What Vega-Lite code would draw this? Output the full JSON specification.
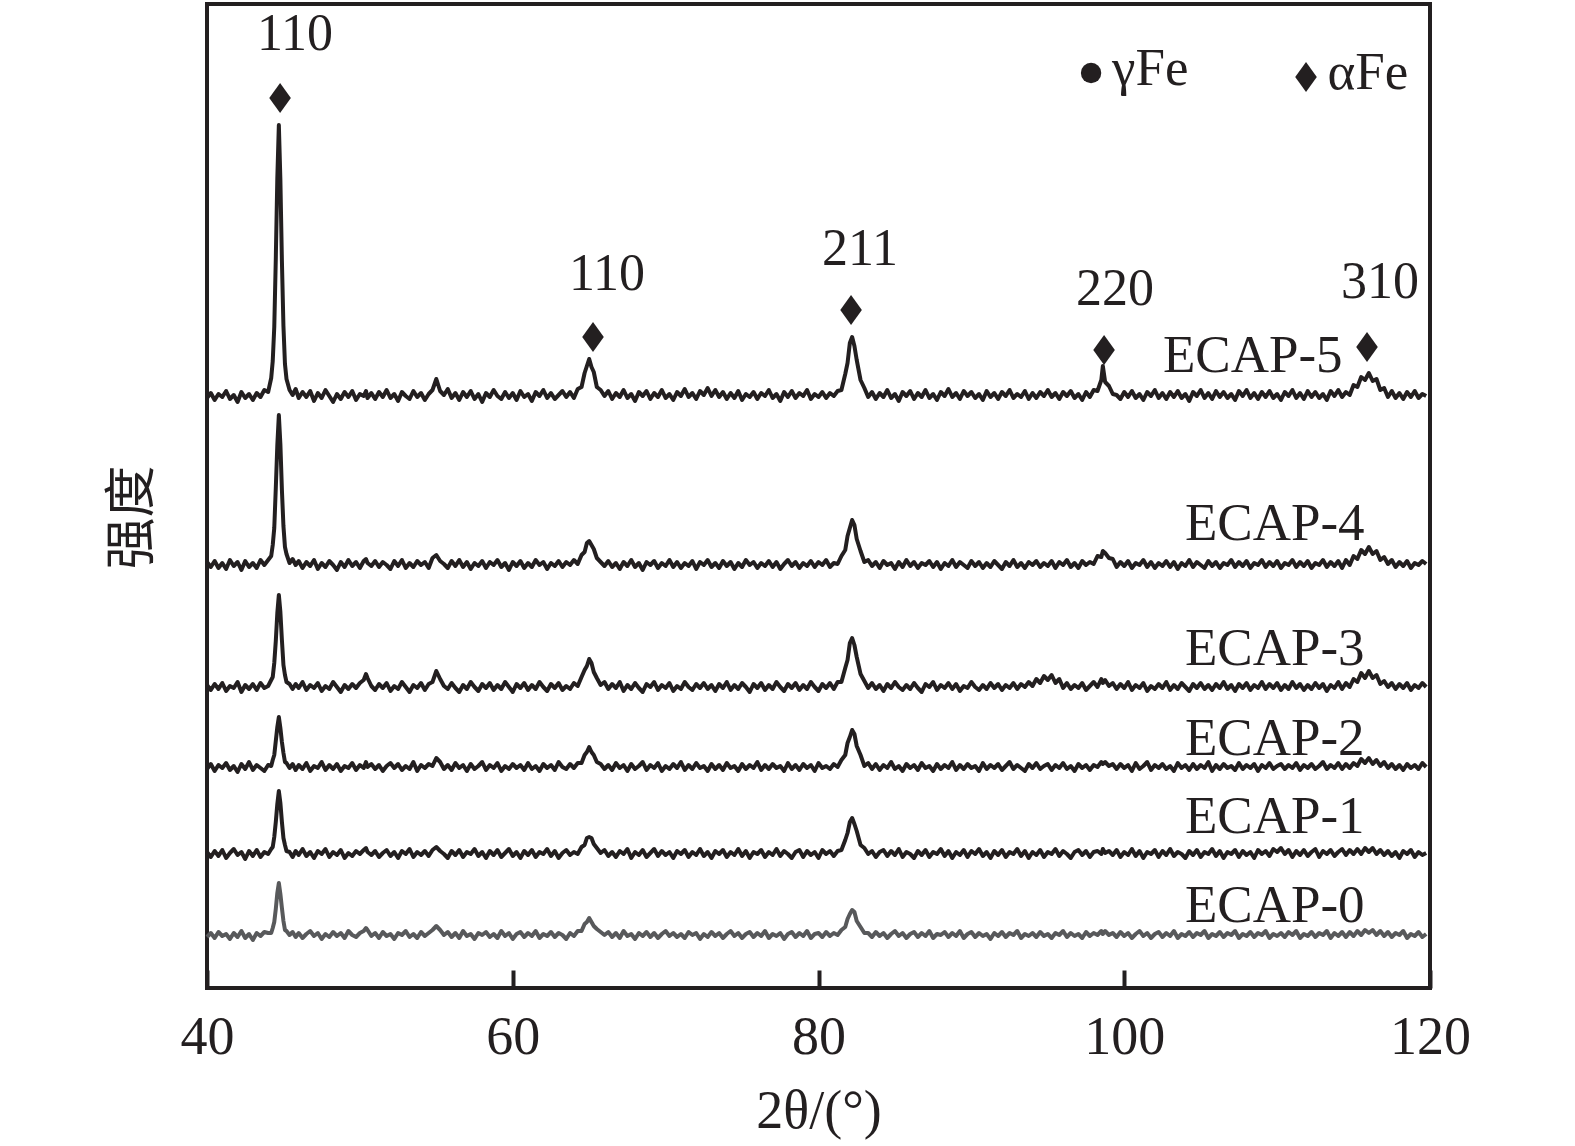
{
"$schema": "https://vega.github.io/schema/vega-lite/v6.json",
"width": 1223, "height": 984,
"autosize": {"type": "none"},
"padding": {"left": 207, "top": 4, "right": 145, "bottom": 158},
"background": "white",
"config": {"view": {"stroke": "#231f20", "strokeWidth": 4}, "font": "Liberation Serif"},
"datasets": {
"xrd": [
{"x":40,"a":590,"b":426,"c":303,"d":219,"e":136,"f":51},
{"x":40.25,"a":595,"b":421,"c":298,"d":224,"e":131,"f":55},
{"x":40.5,"a":588,"b":427,"c":304,"d":217,"e":137,"f":50},
{"x":40.75,"a":594,"b":420,"c":299,"d":223,"e":132,"f":56},
{"x":41,"a":591,"b":425,"c":305,"d":220,"e":138,"f":52},
{"x":41.25,"a":597,"b":419,"c":297,"d":225,"e":130,"f":54},
{"x":41.5,"a":589,"b":428,"c":302,"d":218,"e":135,"f":49},
{"x":41.75,"a":593,"b":422,"c":300,"d":222,"e":139,"f":55},
{"x":42,"a":586,"b":426,"c":306,"d":216,"e":133,"f":51},
{"x":42.25,"a":596,"b":418,"c":296,"d":224,"e":136,"f":57},
{"x":42.5,"a":590,"b":427,"c":303,"d":219,"e":129,"f":50},
{"x":42.75,"a":594,"b":421,"c":299,"d":226,"e":137,"f":54},
{"x":43,"a":588,"b":425,"c":304,"d":218,"e":132,"f":48},
{"x":43.25,"a":595,"b":420,"c":298,"d":223,"e":138,"f":55},
{"x":43.5,"a":591,"b":428,"c":305,"d":220,"e":131,"f":52},
{"x":43.75,"a":598,"b":423,"c":300,"d":217,"e":136,"f":56},
{"x":44,"a":596,"b":428,"c":302,"d":223,"e":134,"f":55},
{"x":44.2,"a":610,"b":432,"c":308,"d":222,"e":139,"f":55},
{"x":44.3,"a":627,"b":443,"c":311,"d":228,"e":141,"f":60},
{"x":44.4,"a":661,"b":460,"c":325,"d":233,"e":151,"f":66},
{"x":44.5,"a":729,"b":500,"c":347,"d":247,"e":166,"f":79},
{"x":44.6,"a":810,"b":543,"c":375,"d":261,"e":184,"f":95},
{"x":44.7,"a":863,"b":573,"c":393,"d":271,"e":197,"f":105},
{"x":44.8,"a":808,"b":544,"c":376,"d":260,"e":185,"f":94},
{"x":44.9,"a":727,"b":498,"c":348,"d":246,"e":166,"f":80},
{"x":45,"a":662,"b":462,"c":323,"d":235,"e":150,"f":67},
{"x":45.1,"a":624,"b":441,"c":313,"d":226,"e":143,"f":58},
{"x":45.2,"a":609,"b":434,"c":306,"d":225,"e":137,"f":57},
{"x":45.4,"a":598,"b":425,"c":304,"d":220,"e":136,"f":53},
{"x":45.6,"a":593,"b":429,"c":299,"d":224,"e":131,"f":56},
{"x":45.8,"a":599,"b":423,"c":304,"d":218,"e":137,"f":51},
{"x":46,"a":590,"b":427,"c":300,"d":223,"e":133,"f":55},
{"x":46.25,"a":596,"b":420,"c":306,"d":219,"e":139,"f":50},
{"x":46.5,"a":591,"b":426,"c":298,"d":225,"e":132,"f":54},
{"x":46.75,"a":597,"b":422,"c":303,"d":217,"e":136,"f":57},
{"x":47,"a":587,"b":428,"c":300,"d":222,"e":130,"f":52},
{"x":47.25,"a":595,"b":419,"c":305,"d":220,"e":137,"f":55},
{"x":47.5,"a":590,"b":425,"c":297,"d":226,"e":134,"f":49},
{"x":47.75,"a":598,"b":421,"c":302,"d":218,"e":139,"f":54},
{"x":48,"a":592,"b":427,"c":299,"d":223,"e":131,"f":51},
{"x":48.25,"a":586,"b":423,"c":306,"d":219,"e":136,"f":56},
{"x":48.5,"a":594,"b":418,"c":301,"d":224,"e":133,"f":52},
{"x":48.75,"a":589,"b":426,"c":296,"d":217,"e":138,"f":55},
{"x":49,"a":596,"b":421,"c":303,"d":222,"e":130,"f":50},
{"x":49.25,"a":591,"b":428,"c":299,"d":220,"e":135,"f":57},
{"x":49.5,"a":597,"b":422,"c":304,"d":225,"e":132,"f":53},
{"x":49.75,"a":588,"b":426,"c":300,"d":218,"e":137,"f":51},
{"x":50,"a":594,"b":420,"c":305,"d":223,"e":134,"f":55},
{"x":50.25,"a":592,"b":427,"c":308,"d":220,"e":138,"f":57},
{"x":50.4,"a":597,"b":429,"c":314,"d":226,"e":140,"f":60},
{"x":50.5,"a":590,"b":425,"c":310,"d":221,"e":136,"f":58},
{"x":50.75,"a":595,"b":422,"c":302,"d":224,"e":133,"f":52},
{"x":51,"a":589,"b":427,"c":298,"d":219,"e":137,"f":55},
{"x":51.25,"a":596,"b":421,"c":304,"d":223,"e":131,"f":50},
{"x":51.5,"a":591,"b":426,"c":300,"d":217,"e":135,"f":56},
{"x":51.75,"a":598,"b":423,"c":305,"d":222,"e":138,"f":52},
{"x":52,"a":590,"b":419,"c":297,"d":225,"e":132,"f":54},
{"x":52.25,"a":594,"b":427,"c":302,"d":220,"e":136,"f":49},
{"x":52.5,"a":587,"b":422,"c":299,"d":224,"e":130,"f":55},
{"x":52.75,"a":596,"b":428,"c":306,"d":218,"e":137,"f":53},
{"x":53,"a":592,"b":420,"c":301,"d":222,"e":134,"f":57},
{"x":53.25,"a":589,"b":425,"c":296,"d":219,"e":139,"f":51},
{"x":53.5,"a":597,"b":421,"c":303,"d":226,"e":131,"f":54},
{"x":53.75,"a":591,"b":427,"c":300,"d":217,"e":136,"f":50},
{"x":54,"a":595,"b":423,"c":305,"d":223,"e":133,"f":56},
{"x":54.25,"a":588,"b":426,"c":298,"d":220,"e":137,"f":52},
{"x":54.5,"a":594,"b":420,"c":304,"d":224,"e":132,"f":55},
{"x":54.75,"a":598,"b":430,"c":306,"d":222,"e":138,"f":58},
{"x":55,"a":609,"b":433,"c":317,"d":230,"e":141,"f":62},
{"x":55.25,"a":597,"b":427,"c":309,"d":226,"e":137,"f":58},
{"x":55.5,"a":593,"b":424,"c":302,"d":219,"e":134,"f":53},
{"x":55.75,"a":599,"b":420,"c":299,"d":223,"e":130,"f":56},
{"x":56,"a":590,"b":427,"c":305,"d":218,"e":137,"f":51},
{"x":56.25,"a":595,"b":422,"c":300,"d":225,"e":133,"f":55},
{"x":56.5,"a":588,"b":428,"c":296,"d":220,"e":138,"f":50},
{"x":56.75,"a":596,"b":421,"c":303,"d":223,"e":131,"f":57},
{"x":57,"a":591,"b":426,"c":299,"d":217,"e":136,"f":52},
{"x":57.25,"a":597,"b":419,"c":306,"d":224,"e":134,"f":54},
{"x":57.5,"a":589,"b":425,"c":301,"d":219,"e":139,"f":49},
{"x":57.75,"a":594,"b":422,"c":297,"d":222,"e":132,"f":55},
{"x":58,"a":586,"b":427,"c":304,"d":226,"e":136,"f":53},
{"x":58.25,"a":595,"b":420,"c":300,"d":218,"e":130,"f":56},
{"x":58.5,"a":591,"b":426,"c":305,"d":223,"e":137,"f":51},
{"x":58.75,"a":598,"b":423,"c":298,"d":220,"e":133,"f":54},
{"x":59,"a":592,"b":428,"c":303,"d":225,"e":138,"f":50},
{"x":59.25,"a":589,"b":421,"c":299,"d":217,"e":131,"f":57},
{"x":59.5,"a":596,"b":425,"c":306,"d":222,"e":135,"f":52},
{"x":59.75,"a":590,"b":418,"c":301,"d":219,"e":139,"f":55},
{"x":60,"a":595,"b":426,"c":296,"d":224,"e":132,"f":49},
{"x":60.25,"a":588,"b":422,"c":304,"d":220,"e":136,"f":54},
{"x":60.5,"a":597,"b":427,"c":300,"d":223,"e":130,"f":56},
{"x":60.75,"a":591,"b":420,"c":305,"d":218,"e":137,"f":51},
{"x":61,"a":594,"b":425,"c":298,"d":225,"e":133,"f":55},
{"x":61.25,"a":587,"b":421,"c":303,"d":219,"e":138,"f":52},
{"x":61.5,"a":596,"b":428,"c":299,"d":222,"e":131,"f":57},
{"x":61.75,"a":592,"b":423,"c":306,"d":217,"e":136,"f":50},
{"x":62,"a":598,"b":426,"c":301,"d":224,"e":134,"f":54},
{"x":62.25,"a":590,"b":419,"c":297,"d":220,"e":139,"f":52},
{"x":62.5,"a":595,"b":425,"c":304,"d":223,"e":132,"f":56},
{"x":62.75,"a":589,"b":422,"c":300,"d":218,"e":137,"f":51},
{"x":63,"a":593,"b":427,"c":305,"d":226,"e":130,"f":55},
{"x":63.25,"a":597,"b":421,"c":298,"d":221,"e":135,"f":53},
{"x":63.5,"a":591,"b":426,"c":302,"d":219,"e":138,"f":49},
{"x":63.75,"a":596,"b":423,"c":299,"d":224,"e":133,"f":55},
{"x":64,"a":590,"b":428,"c":305,"d":220,"e":136,"f":52},
{"x":64.25,"a":599,"b":424,"c":302,"d":225,"e":134,"f":57},
{"x":64.5,"a":601,"b":433,"c":311,"d":225,"e":141,"f":57},
{"x":64.7,"a":615,"b":436,"c":318,"d":233,"e":143,"f":64},
{"x":64.85,"a":622,"b":445,"c":322,"d":236,"e":150,"f":66},
{"x":65,"a":629,"b":447,"c":329,"d":241,"e":151,"f":70},
{"x":65.15,"a":621,"b":443,"c":325,"d":236,"e":150,"f":66},
{"x":65.3,"a":616,"b":439,"c":316,"d":233,"e":144,"f":62},
{"x":65.5,"a":601,"b":430,"c":310,"d":226,"e":140,"f":59},
{"x":65.75,"a":598,"b":426,"c":303,"d":224,"e":135,"f":56},
{"x":66,"a":592,"b":422,"c":306,"d":219,"e":138,"f":53},
{"x":66.25,"a":597,"b":427,"c":299,"d":223,"e":132,"f":56},
{"x":66.5,"a":589,"b":421,"c":304,"d":218,"e":136,"f":51},
{"x":66.75,"a":595,"b":425,"c":300,"d":225,"e":131,"f":55},
{"x":67,"a":591,"b":419,"c":306,"d":220,"e":137,"f":50},
{"x":67.25,"a":598,"b":426,"c":297,"d":223,"e":134,"f":57},
{"x":67.5,"a":590,"b":422,"c":303,"d":217,"e":139,"f":52},
{"x":67.75,"a":594,"b":428,"c":299,"d":224,"e":130,"f":54},
{"x":68,"a":587,"b":421,"c":305,"d":219,"e":136,"f":49},
{"x":68.25,"a":596,"b":425,"c":300,"d":222,"e":133,"f":55},
{"x":68.5,"a":592,"b":418,"c":296,"d":226,"e":138,"f":52},
{"x":68.75,"a":597,"b":426,"c":304,"d":218,"e":131,"f":56},
{"x":69,"a":589,"b":423,"c":301,"d":223,"e":135,"f":51},
{"x":69.25,"a":595,"b":427,"c":306,"d":220,"e":139,"f":55},
{"x":69.5,"a":591,"b":420,"c":298,"d":225,"e":132,"f":50},
{"x":69.75,"a":598,"b":425,"c":303,"d":217,"e":137,"f":54},
{"x":70,"a":590,"b":422,"c":300,"d":222,"e":133,"f":57},
{"x":70.25,"a":594,"b":428,"c":305,"d":219,"e":136,"f":52},
{"x":70.5,"a":588,"b":421,"c":297,"d":224,"e":130,"f":55},
{"x":70.75,"a":596,"b":426,"c":302,"d":220,"e":137,"f":51},
{"x":71,"a":592,"b":420,"c":299,"d":226,"e":134,"f":54},
{"x":71.25,"a":599,"b":425,"c":306,"d":218,"e":138,"f":50},
{"x":71.5,"a":591,"b":422,"c":301,"d":223,"e":131,"f":56},
{"x":71.75,"a":595,"b":427,"c":298,"d":219,"e":136,"f":53},
{"x":72,"a":589,"b":419,"c":304,"d":225,"e":133,"f":55},
{"x":72.25,"a":597,"b":426,"c":300,"d":220,"e":139,"f":49},
{"x":72.5,"a":593,"b":423,"c":305,"d":222,"e":132,"f":54},
{"x":72.75,"a":600,"b":428,"c":299,"d":217,"e":136,"f":51},
{"x":73,"a":592,"b":421,"c":303,"d":224,"e":130,"f":56},
{"x":73.25,"a":598,"b":425,"c":297,"d":219,"e":137,"f":52},
{"x":73.5,"a":591,"b":420,"c":304,"d":223,"e":134,"f":55},
{"x":73.75,"a":596,"b":427,"c":300,"d":218,"e":138,"f":50},
{"x":74,"a":589,"b":422,"c":306,"d":225,"e":131,"f":54},
{"x":74.25,"a":595,"b":426,"c":298,"d":220,"e":136,"f":57},
{"x":74.5,"a":590,"b":419,"c":303,"d":222,"e":133,"f":52},
{"x":74.75,"a":597,"b":425,"c":299,"d":217,"e":139,"f":55},
{"x":75,"a":588,"b":421,"c":305,"d":224,"e":132,"f":50},
{"x":75.25,"a":594,"b":428,"c":301,"d":219,"e":137,"f":54},
{"x":75.5,"a":591,"b":423,"c":296,"d":223,"e":130,"f":56},
{"x":75.75,"a":596,"b":426,"c":304,"d":220,"e":136,"f":51},
{"x":76,"a":589,"b":420,"c":300,"d":226,"e":134,"f":55},
{"x":76.25,"a":595,"b":425,"c":305,"d":218,"e":138,"f":52},
{"x":76.5,"a":592,"b":422,"c":298,"d":223,"e":131,"f":57},
{"x":76.75,"a":598,"b":427,"c":303,"d":219,"e":136,"f":50},
{"x":77,"a":590,"b":421,"c":299,"d":224,"e":133,"f":54},
{"x":77.25,"a":594,"b":426,"c":306,"d":220,"e":139,"f":52},
{"x":77.5,"a":587,"b":419,"c":301,"d":222,"e":132,"f":55},
{"x":77.75,"a":596,"b":424,"c":297,"d":217,"e":137,"f":49},
{"x":78,"a":591,"b":428,"c":304,"d":225,"e":134,"f":54},
{"x":78.25,"a":597,"b":422,"c":300,"d":219,"e":130,"f":56},
{"x":78.5,"a":590,"b":426,"c":305,"d":223,"e":136,"f":51},
{"x":78.75,"a":595,"b":420,"c":298,"d":218,"e":138,"f":55},
{"x":79,"a":592,"b":425,"c":303,"d":224,"e":131,"f":52},
{"x":79.25,"a":598,"b":422,"c":299,"d":220,"e":137,"f":57},
{"x":79.5,"a":589,"b":427,"c":306,"d":223,"e":133,"f":50},
{"x":79.75,"a":594,"b":421,"c":301,"d":217,"e":136,"f":54},
{"x":80,"a":591,"b":426,"c":297,"d":225,"e":130,"f":55},
{"x":80.25,"a":596,"b":423,"c":304,"d":220,"e":138,"f":51},
{"x":80.5,"a":590,"b":428,"c":300,"d":222,"e":134,"f":56},
{"x":80.75,"a":595,"b":421,"c":305,"d":219,"e":137,"f":52},
{"x":81,"a":592,"b":425,"c":299,"d":224,"e":132,"f":55},
{"x":81.25,"a":597,"b":424,"c":306,"d":221,"e":137,"f":53},
{"x":81.5,"a":598,"b":432,"c":306,"d":228,"e":138,"f":58},
{"x":81.75,"a":614,"b":438,"c":320,"d":233,"e":148,"f":61},
{"x":81.9,"a":625,"b":452,"c":328,"d":245,"e":155,"f":69},
{"x":82.05,"a":645,"b":460,"c":345,"d":251,"e":166,"f":74},
{"x":82.2,"a":651,"b":468,"c":350,"d":258,"e":170,"f":78},
{"x":82.35,"a":642,"b":463,"c":343,"d":254,"e":164,"f":76},
{"x":82.5,"a":628,"b":449,"c":331,"d":242,"e":157,"f":67},
{"x":82.75,"a":608,"b":437,"c":314,"d":233,"e":143,"f":61},
{"x":83,"a":600,"b":426,"c":307,"d":222,"e":140,"f":55},
{"x":83.25,"a":591,"b":428,"c":300,"d":225,"e":134,"f":55},
{"x":83.5,"a":596,"b":422,"c":305,"d":219,"e":137,"f":51},
{"x":83.75,"a":589,"b":426,"c":299,"d":224,"e":131,"f":56},
{"x":84,"a":595,"b":420,"c":303,"d":218,"e":136,"f":52},
{"x":84.25,"a":591,"b":427,"c":297,"d":223,"e":138,"f":55},
{"x":84.5,"a":598,"b":423,"c":304,"d":220,"e":132,"f":50},
{"x":84.75,"a":590,"b":425,"c":300,"d":226,"e":137,"f":54},
{"x":85,"a":594,"b":419,"c":306,"d":219,"e":133,"f":57},
{"x":85.25,"a":587,"b":426,"c":301,"d":222,"e":139,"f":52},
{"x":85.5,"a":596,"b":421,"c":298,"d":217,"e":131,"f":55},
{"x":85.75,"a":592,"b":428,"c":303,"d":224,"e":136,"f":50},
{"x":86,"a":597,"b":422,"c":299,"d":220,"e":134,"f":54},
{"x":86.25,"a":589,"b":426,"c":305,"d":223,"e":130,"f":56},
{"x":86.5,"a":595,"b":420,"c":300,"d":218,"e":137,"f":51},
{"x":86.75,"a":591,"b":425,"c":296,"d":225,"e":133,"f":55},
{"x":87,"a":598,"b":423,"c":304,"d":220,"e":138,"f":52},
{"x":87.25,"a":590,"b":427,"c":301,"d":222,"e":131,"f":57},
{"x":87.5,"a":594,"b":421,"c":306,"d":217,"e":136,"f":50},
{"x":87.75,"a":588,"b":426,"c":298,"d":224,"e":134,"f":54},
{"x":88,"a":596,"b":419,"c":303,"d":219,"e":139,"f":53},
{"x":88.25,"a":592,"b":425,"c":300,"d":223,"e":132,"f":56},
{"x":88.5,"a":599,"b":422,"c":305,"d":220,"e":137,"f":51},
{"x":88.75,"a":591,"b":428,"c":299,"d":226,"e":130,"f":55},
{"x":89,"a":595,"b":421,"c":304,"d":218,"e":136,"f":52},
{"x":89.25,"a":589,"b":426,"c":297,"d":223,"e":133,"f":57},
{"x":89.5,"a":597,"b":423,"c":302,"d":219,"e":138,"f":50},
{"x":89.75,"a":592,"b":420,"c":300,"d":224,"e":131,"f":54},
{"x":90,"a":596,"b":427,"c":306,"d":220,"e":137,"f":56},
{"x":90.25,"a":590,"b":422,"c":301,"d":222,"e":134,"f":51},
{"x":90.5,"a":594,"b":426,"c":298,"d":217,"e":139,"f":55},
{"x":90.75,"a":588,"b":420,"c":303,"d":225,"e":132,"f":52},
{"x":91,"a":597,"b":425,"c":299,"d":219,"e":136,"f":54},
{"x":91.25,"a":591,"b":421,"c":305,"d":223,"e":130,"f":49},
{"x":91.5,"a":595,"b":427,"c":300,"d":220,"e":137,"f":55},
{"x":91.75,"a":589,"b":423,"c":304,"d":224,"e":133,"f":52},
{"x":92,"a":596,"b":419,"c":298,"d":218,"e":138,"f":56},
{"x":92.25,"a":592,"b":426,"c":303,"d":222,"e":131,"f":51},
{"x":92.5,"a":598,"b":422,"c":300,"d":226,"e":136,"f":55},
{"x":92.75,"a":590,"b":428,"c":305,"d":219,"e":134,"f":53},
{"x":93,"a":594,"b":421,"c":299,"d":223,"e":139,"f":57},
{"x":93.25,"a":591,"b":425,"c":304,"d":220,"e":132,"f":50},
{"x":93.5,"a":597,"b":420,"c":301,"d":217,"e":137,"f":54},
{"x":93.75,"a":589,"b":426,"c":306,"d":224,"e":130,"f":52},
{"x":94,"a":595,"b":423,"c":302,"d":220,"e":136,"f":55},
{"x":94.25,"a":590,"b":427,"c":309,"d":225,"e":133,"f":51},
{"x":94.5,"a":596,"b":421,"c":305,"d":219,"e":138,"f":56},
{"x":94.75,"a":592,"b":425,"c":312,"d":222,"e":131,"f":52},
{"x":95,"a":598,"b":422,"c":308,"d":224,"e":136,"f":54},
{"x":95.25,"a":591,"b":427,"c":313,"d":218,"e":134,"f":50},
{"x":95.5,"a":595,"b":420,"c":305,"d":223,"e":139,"f":55},
{"x":95.75,"a":589,"b":426,"c":309,"d":220,"e":132,"f":53},
{"x":96,"a":596,"b":423,"c":300,"d":225,"e":137,"f":57},
{"x":96.25,"a":592,"b":428,"c":305,"d":219,"e":134,"f":51},
{"x":96.5,"a":597,"b":421,"c":299,"d":222,"e":130,"f":55},
{"x":96.75,"a":590,"b":425,"c":303,"d":217,"e":136,"f":52},
{"x":97,"a":594,"b":420,"c":300,"d":224,"e":138,"f":54},
{"x":97.25,"a":588,"b":427,"c":305,"d":220,"e":133,"f":50},
{"x":97.5,"a":596,"b":423,"c":298,"d":223,"e":137,"f":56},
{"x":97.75,"a":591,"b":426,"c":302,"d":218,"e":131,"f":52},
{"x":98,"a":598,"b":424,"c":306,"d":223,"e":136,"f":55},
{"x":98.25,"a":597,"b":432,"c":301,"d":221,"e":137,"f":53},
{"x":98.5,"a":608,"b":431,"c":309,"d":226,"e":134,"f":57},
{"x":98.6,"a":622,"b":437,"c":305,"d":224,"e":139,"f":54},
{"x":98.75,"a":606,"b":435,"c":308,"d":226,"e":135,"f":57},
{"x":99,"a":602,"b":430,"c":302,"d":222,"e":137,"f":53},
{"x":99.25,"a":594,"b":429,"c":305,"d":224,"e":133,"f":55},
{"x":99.5,"a":593,"b":421,"c":299,"d":219,"e":138,"f":51},
{"x":99.75,"a":589,"b":426,"c":304,"d":224,"e":131,"f":56},
{"x":100,"a":596,"b":422,"c":300,"d":220,"e":136,"f":52},
{"x":100.25,"a":591,"b":427,"c":306,"d":223,"e":133,"f":55},
{"x":100.5,"a":597,"b":420,"c":298,"d":217,"e":139,"f":50},
{"x":100.75,"a":590,"b":425,"c":303,"d":225,"e":132,"f":54},
{"x":101,"a":594,"b":423,"c":300,"d":219,"e":137,"f":57},
{"x":101.25,"a":588,"b":428,"c":305,"d":222,"e":130,"f":52},
{"x":101.5,"a":596,"b":421,"c":297,"d":226,"e":136,"f":55},
{"x":101.75,"a":592,"b":426,"c":302,"d":218,"e":134,"f":50},
{"x":102,"a":598,"b":420,"c":299,"d":223,"e":138,"f":54},
{"x":102.25,"a":590,"b":425,"c":304,"d":220,"e":131,"f":56},
{"x":102.5,"a":595,"b":422,"c":300,"d":224,"e":137,"f":51},
{"x":102.75,"a":589,"b":427,"c":306,"d":219,"e":133,"f":55},
{"x":103,"a":596,"b":421,"c":298,"d":222,"e":139,"f":52},
{"x":103.25,"a":591,"b":426,"c":303,"d":217,"e":132,"f":57},
{"x":103.5,"a":597,"b":419,"c":299,"d":225,"e":136,"f":50},
{"x":103.75,"a":590,"b":425,"c":305,"d":220,"e":134,"f":54},
{"x":104,"a":594,"b":422,"c":301,"d":223,"e":130,"f":52},
{"x":104.25,"a":587,"b":428,"c":297,"d":218,"e":137,"f":56},
{"x":104.5,"a":596,"b":421,"c":304,"d":224,"e":133,"f":51},
{"x":104.75,"a":592,"b":426,"c":300,"d":219,"e":138,"f":55},
{"x":105,"a":598,"b":423,"c":305,"d":223,"e":131,"f":53},
{"x":105.25,"a":590,"b":420,"c":299,"d":220,"e":136,"f":57},
{"x":105.5,"a":595,"b":427,"c":303,"d":226,"e":134,"f":50},
{"x":105.75,"a":589,"b":422,"c":298,"d":217,"e":139,"f":54},
{"x":106,"a":597,"b":426,"c":304,"d":223,"e":132,"f":52},
{"x":106.25,"a":591,"b":420,"c":300,"d":219,"e":137,"f":56},
{"x":106.5,"a":596,"b":425,"c":306,"d":224,"e":130,"f":51},
{"x":106.75,"a":590,"b":423,"c":299,"d":220,"e":136,"f":55},
{"x":107,"a":594,"b":428,"c":303,"d":222,"e":134,"f":53},
{"x":107.25,"a":588,"b":421,"c":297,"d":218,"e":138,"f":57},
{"x":107.5,"a":597,"b":426,"c":304,"d":225,"e":131,"f":50},
{"x":107.75,"a":592,"b":422,"c":300,"d":219,"e":137,"f":54},
{"x":108,"a":598,"b":427,"c":305,"d":223,"e":133,"f":52},
{"x":108.25,"a":590,"b":420,"c":298,"d":220,"e":136,"f":56},
{"x":108.5,"a":595,"b":425,"c":303,"d":224,"e":130,"f":51},
{"x":108.75,"a":589,"b":423,"c":300,"d":217,"e":138,"f":55},
{"x":109,"a":596,"b":428,"c":306,"d":223,"e":134,"f":53},
{"x":109.25,"a":591,"b":421,"c":299,"d":220,"e":137,"f":57},
{"x":109.5,"a":597,"b":426,"c":304,"d":225,"e":132,"f":50},
{"x":109.75,"a":590,"b":422,"c":300,"d":219,"e":139,"f":54},
{"x":110,"a":594,"b":427,"c":305,"d":222,"e":136,"f":52},
{"x":110.25,"a":588,"b":420,"c":298,"d":224,"e":140,"f":55},
{"x":110.5,"a":596,"b":425,"c":303,"d":219,"e":134,"f":51},
{"x":110.75,"a":592,"b":423,"c":299,"d":223,"e":138,"f":56},
{"x":111,"a":598,"b":428,"c":306,"d":220,"e":131,"f":53},
{"x":111.25,"a":590,"b":421,"c":300,"d":225,"e":137,"f":57},
{"x":111.5,"a":595,"b":426,"c":304,"d":218,"e":133,"f":50},
{"x":111.75,"a":589,"b":422,"c":298,"d":223,"e":138,"f":54},
{"x":112,"a":597,"b":427,"c":303,"d":220,"e":132,"f":52},
{"x":112.25,"a":591,"b":420,"c":299,"d":224,"e":136,"f":56},
{"x":112.5,"a":596,"b":425,"c":305,"d":219,"e":139,"f":51},
{"x":112.75,"a":590,"b":423,"c":300,"d":222,"e":131,"f":55},
{"x":113,"a":594,"b":428,"c":304,"d":226,"e":137,"f":53},
{"x":113.25,"a":588,"b":421,"c":297,"d":219,"e":134,"f":57},
{"x":113.5,"a":597,"b":426,"c":303,"d":223,"e":138,"f":50},
{"x":113.75,"a":592,"b":422,"c":300,"d":220,"e":132,"f":55},
{"x":114,"a":598,"b":427,"c":306,"d":225,"e":136,"f":52},
{"x":114.25,"a":591,"b":420,"c":299,"d":219,"e":139,"f":56},
{"x":114.5,"a":596,"b":428,"c":305,"d":224,"e":133,"f":51},
{"x":114.75,"a":593,"b":423,"c":301,"d":220,"e":138,"f":56},
{"x":115,"a":603,"b":432,"c":309,"d":225,"e":134,"f":52},
{"x":115.25,"a":601,"b":429,"c":306,"d":222,"e":139,"f":57},
{"x":115.5,"a":611,"b":438,"c":315,"d":229,"e":134,"f":53},
{"x":115.75,"a":608,"b":434,"c":310,"d":225,"e":140,"f":58},
{"x":116,"a":615,"b":441,"c":317,"d":230,"e":136,"f":55},
{"x":116.25,"a":607,"b":434,"c":310,"d":224,"e":140,"f":58},
{"x":116.5,"a":609,"b":437,"c":313,"d":228,"e":134,"f":53},
{"x":116.75,"a":598,"b":428,"c":304,"d":222,"e":138,"f":57},
{"x":117,"a":600,"b":431,"c":307,"d":226,"e":133,"f":52},
{"x":117.25,"a":591,"b":424,"c":301,"d":220,"e":137,"f":56},
{"x":117.5,"a":597,"b":428,"c":305,"d":224,"e":132,"f":51},
{"x":117.75,"a":590,"b":421,"c":299,"d":219,"e":136,"f":55},
{"x":118,"a":595,"b":426,"c":304,"d":223,"e":130,"f":53},
{"x":118.25,"a":589,"b":422,"c":300,"d":218,"e":137,"f":57},
{"x":118.5,"a":596,"b":427,"c":305,"d":224,"e":134,"f":50},
{"x":118.75,"a":591,"b":420,"c":298,"d":220,"e":138,"f":54},
{"x":119,"a":597,"b":425,"c":303,"d":223,"e":131,"f":52},
{"x":119.25,"a":590,"b":423,"c":300,"d":219,"e":136,"f":56},
{"x":119.5,"a":594,"b":427,"c":305,"d":225,"e":133,"f":51},
{"x":119.75,"a":592,"b":424,"c":301,"d":221,"e":135,"f":54}
],
"names": [
{"t":"ECAP-5","x":102.53,"y":616},
{"t":"ECAP-4","x":103.97,"y":448},
{"t":"ECAP-3","x":103.97,"y":323},
{"t":"ECAP-2","x":103.97,"y":233},
{"t":"ECAP-1","x":103.97,"y":155},
{"t":"ECAP-0","x":103.97,"y":66}
],
"hkl": [
{"t":"110","x":45.76,"y":938},
{"t":"110","x":66.17,"y":698},
{"t":"211","x":82.71,"y":723},
{"t":"220","x":99.39,"y":683},
{"t":"310","x":116.73,"y":690}
],
"alpha": [
{"x":44.78,"y":890},
{"x":65.25,"y":651},
{"x":82.13,"y":678},
{"x":98.68,"y":638},
{"x":115.88,"y":641},
{"x":111.89,"y":911}
],
"gamma": [
{"x":97.83,"y":915}
],
"key": [
{"t":"γFe","x":99.2,"y":903},
{"t":"αFe","x":113.3,"y":899}
]
},
"layer": [
{
"data": {"name": "xrd"},
"transform": [{"fold": ["a","b","c","d","e","f"], "as": ["k","y"]}],
"mark": {"type": "line", "strokeWidth": 4, "strokeJoin": "round"},
"encoding": {
"x": {"field": "x", "type": "quantitative",
"scale": {"domain": [40,120], "nice": false, "zero": false},
"axis": {"title": "2θ/(°)", "values": [40,60,80,100,120], "grid": false, "domain": false,
"tickSize": -18, "tickWidth": 4, "tickColor": "#231f20",
"labelFont": "Liberation Serif", "labelFontSize": 54, "labelColor": "#231f20", "labelPadding": 40, "labelFlush": false,
"titleFont": "Liberation Serif", "titleFontSize": 54, "titleFontWeight": "normal", "titleColor": "#231f20", "titlePadding": 20}},
"y": {"field": "y", "type": "quantitative",
"scale": {"domain": [0,984], "nice": false, "zero": false},
"axis": {"title": "强度", "labels": false, "ticks": false, "domain": false, "grid": false,
"titleFont": "Noto Sans CJK SC", "titleFontSize": 52, "titleFontWeight": "normal", "titleColor": "#231f20",
"titleAngle": -90, "titleBaseline": "middle", "titleX": -75, "titleY": 513}},
"color": {"field": "k", "type": "nominal",
"scale": {"domain": ["a","b","c","d","e","f"], "range": ["#231f20","#231f20","#231f20","#231f20","#231f20","#58595b"]},
"legend": null}
}
},
{
"data": {"name": "names"},
"mark": {"type": "text", "align": "left", "baseline": "alphabetic", "font": "Liberation Serif", "fontSize": 53, "color": "#231f20"},
"encoding": {"x": {"field": "x", "type": "quantitative"}, "y": {"field": "y", "type": "quantitative"}, "text": {"field": "t"}}
},
{
"data": {"name": "hkl"},
"mark": {"type": "text", "align": "center", "baseline": "alphabetic", "font": "Liberation Serif", "fontSize": 52, "color": "#231f20"},
"encoding": {"x": {"field": "x", "type": "quantitative"}, "y": {"field": "y", "type": "quantitative"}, "text": {"field": "t"}}
},
{
"data": {"name": "key"},
"mark": {"type": "text", "align": "left", "baseline": "alphabetic", "font": "Liberation Serif", "fontSize": 53, "color": "#231f20"},
"encoding": {"x": {"field": "x", "type": "quantitative"}, "y": {"field": "y", "type": "quantitative"}, "text": {"field": "t"}}
},
{
"data": {"name": "alpha"},
"mark": {"type": "point", "filled": true, "opacity": 1, "color": "#231f20", "strokeWidth": 0, "size": 576, "shape": "M0,-1.25L0.9,0L0,1.25L-0.9,0Z"},
"encoding": {"x": {"field": "x", "type": "quantitative"}, "y": {"field": "y", "type": "quantitative"}}
},
{
"data": {"name": "gamma"},
"mark": {"type": "point", "filled": true, "opacity": 1, "color": "#231f20", "strokeWidth": 0, "size": 415, "shape": "circle"},
"encoding": {"x": {"field": "x", "type": "quantitative"}, "y": {"field": "y", "type": "quantitative"}}
}
]
}
